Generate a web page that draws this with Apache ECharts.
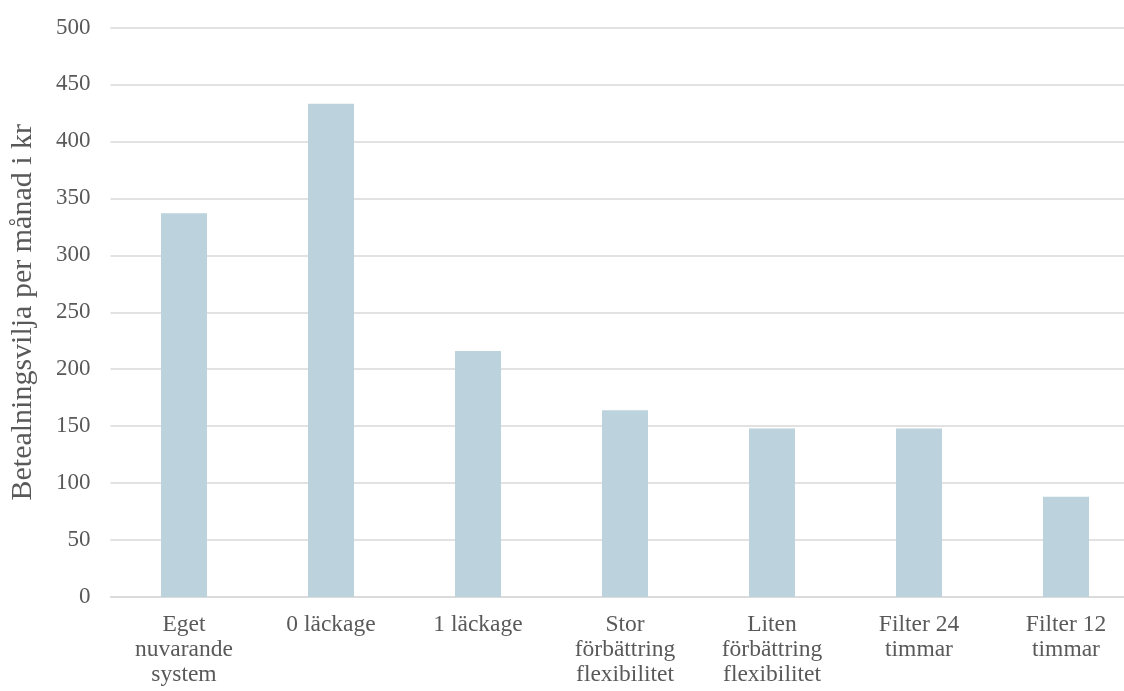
<!DOCTYPE html>
<html>
<head>
<meta charset="utf-8">
<script src="https://cdn.jsdelivr.net/npm/echarts@6/dist/echarts.min.js"></script>
<style>
  html, body { margin: 0; padding: 0; background: #ffffff; }
  #chart { width: 1124px; height: 691px; }
</style>
</head>
<body>
<div id="chart"></div>
<script>
// Betalningsvilja per alternativ (kr per månad)
const categories = [
  'Eget\nnuvarande\nsystem',
  '0 läckage',
  '1 läckage',
  'Stor\nförbättring\nflexibilitet',
  'Liten\nförbättring\nflexibilitet',
  'Filter 24\ntimmar',
  'Filter 12\ntimmar'
];
const values = [337, 433, 216, 164, 148, 148, 88];
const yTicks = { min: 0, max: 500, interval: 50 };
const yAxisTitle = 'Betealningsvilja per månad i kr';

const font = '"Liberation Serif", "Times New Roman", serif';
const chart = echarts.init(document.getElementById('chart'), null, { renderer: 'canvas' });

chart.setOption({
  animation: false,
  backgroundColor: '#ffffff',
  // fixed plot area; it runs past the right edge of the canvas
  grid: {
    left: 110.5, top: 27.5, width: 1029, height: 569.5,
    containLabel: false,
    outerBoundsMode: 'none'
  },
  xAxis: {
    type: 'category',
    data: categories,
    axisLine: { show: true, lineStyle: { color: '#d9d9d9', width: 1.5 } },
    axisTick: { show: false },
    axisLabel: {
      interval: 0,
      color: '#595959',
      fontFamily: font,
      fontSize: 23.5,
      lineHeight: 25,
      margin: 15
    }
  },
  yAxis: {
    type: 'value',
    min: yTicks.min,
    max: yTicks.max,
    interval: yTicks.interval,
    name: yAxisTitle,
    nameLocation: 'middle',
    nameRotate: 90,
    nameGap: 72,
    nameTextStyle: { color: '#595959', fontFamily: font, fontSize: 30 },
    axisLine: { show: false },
    axisTick: { show: false },
    axisLabel: { color: '#595959', fontFamily: font, fontSize: 23, margin: 20, padding: [6, 0, 0, 0] },
    splitLine: { lineStyle: { color: '#d9d9d9', width: 1.5 } }
  },
  series: [{
    type: 'bar',
    data: values,
    barWidth: 46,
    itemStyle: { color: '#bcd2dc' }
  }]
});
</script>
</body>
</html>
